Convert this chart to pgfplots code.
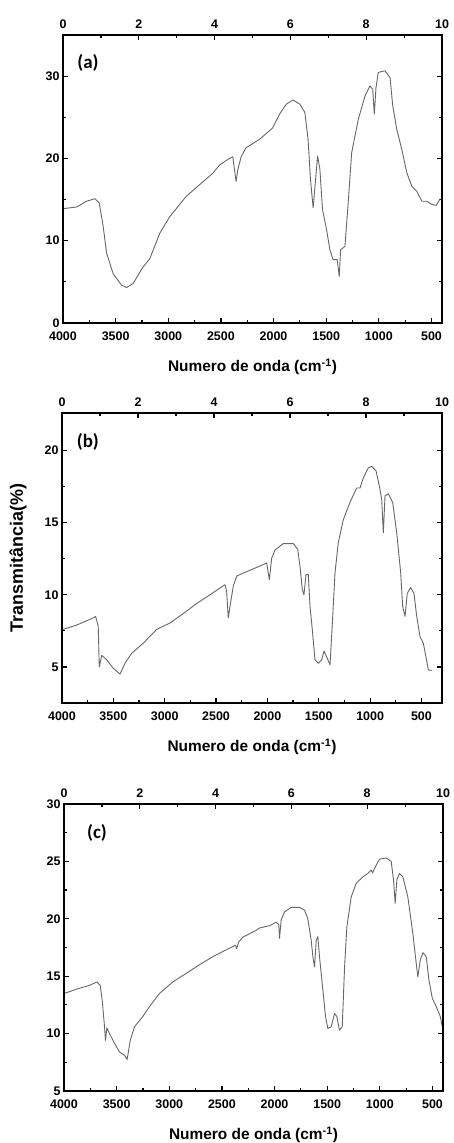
\documentclass[border=0pt]{standalone}
\usepackage{fontspec}
\setmainfont{Liberation Sans}
\newfontfamily\carlito{Carlito}
\usepackage{pgfplots}
\pgfplotsset{compat=1.18}
\tikzset{
  lab/.style={font=\carlito\bfseries\fontsize{19}{21}\selectfont},
  curve/.style={black!60, line width=0.9bp, line join=round},
}
\pgfplotsset{
  common/.style={
    scale only axis, anchor=south west,
    axis line style={line width=1.5bp},
    major tick length=5bp, minor tick length=3bp,
    every tick/.style={black, line width=1.2bp},
    tick label style={font=\fontsize{12.5}{14}\selectfont\bfseries},
    /pgf/number format/assume math mode=true,
    /pgf/number format/1000 sep={},
  },
  spec/.style={common,
    x dir=reverse, xmax=4000,
    xtick={500,1000,...,4000}, minor x tick num=1,
    xtick pos=left, ytick pos=both, yticklabel pos=left,
    minor y tick num=1,
    xticklabel style={yshift=-5bp},
    xlabel={Numero de onda (cm\textsuperscript{-1})},
    every axis x label/.style={at={(axis description cs:0.5,0)}, anchor=center, yshift=-44bp,
      font=\fontsize{15.5}{17}\selectfont\bfseries},
  },
  top/.style={common,
    xmin=0, xmax=10, ymin=0, ymax=1,
    xtick={0,2,...,10}, minor x tick num=1,
    xtick pos=right, xticklabel pos=right, ytick=\empty,
    xticklabel style={yshift=3bp},
  },
}
\begin{document}
\begin{tikzpicture}
\path[use as bounding box] (0,0) rectangle (454bp,1143bp);

% ---------------- (a)
\begin{axis}[spec, at={(63bp,820bp)}, width=379bp, height=288bp,
  xmin=400, ymin=0, ymax=35, ytick={0,10,20,30}]
\addplot[curve] coordinates {
(4000,13.9)(3930,14.0)(3870,14.1)(3776,14.8)(3697,15.1)(3656,14.6)(3618,11.7)
(3586,8.5)(3524,6.0)(3444,4.6)(3397,4.3)(3334,4.8)(3240,6.8)(3176,7.8)(3081,10.9)
(2987,12.9)(2829,15.4)(2703,16.8)(2577,18.2)(2513,19.2)(2419,20.0)(2387,20.2)
(2375,19.0)(2356,17.2)(2340,18.6)(2308,20.2)(2261,21.3)(2135,22.3)(2009,23.7)
(1942,25.4)(1878,26.6)(1815,27.1)(1751,26.6)(1703,25.6)(1672,22.3)(1649,17.4)
(1624,14.0)(1601,17.4)(1582,20.3)(1560,18.7)(1535,13.8)(1496,11.3)(1465,8.9)
(1434,7.7)(1395,7.7)(1376,5.65)(1363,8.9)(1322,9.3)(1291,14.6)(1258,20.7)
(1195,24.75)(1131,27.6)(1084,28.8)(1058,28.4)(1043,25.4)(1027,28.6)(1005,30.45)
(941,30.65)(893,29.8)(868,26.4)(829,23.5)(782,21.1)(734,18.25)(686,16.6)
(639,16.0)(591,14.8)(544,14.8)(496,14.4)(455,14.3)(417,15.1)
};
\node[lab] at (axis description cs:0.066,0.903) {(a)};
\end{axis}
\begin{axis}[top, at={(63bp,820bp)}, width=379bp, height=288bp]
\addplot[draw=none] coordinates {(0,0)};
\end{axis}

% ---------------- (b)
\begin{axis}[spec, at={(62bp,440bp)}, width=380bp, height=290bp,
  xmin=300, ymin=2.5, ymax=22.6, ytick={5,10,15,20},
  ylabel={Transmitância(\%)},
  every axis y label/.style={at={(axis description cs:-0.116,0.5)}, rotate=90, anchor=center,
    font=\fontsize{18}{20}\selectfont\bfseries}]
\addplot[curve] coordinates {
(4000,7.58)(3857,7.9)(3695,8.4)(3672,8.5)(3647,7.8)(3637,5.0)(3613,5.8)(3565,5.5)
(3500,4.9)(3435,4.5)(3387,5.25)(3321,5.95)(3208,6.65)(3078,7.6)(2948,8.05)
(2819,8.7)(2688,9.4)(2559,10.0)(2413,10.7)(2397,10.25)(2381,8.4)(2364,9.2)
(2332,10.6)(2299,11.3)(2202,11.6)(2072,12.0)(2007,12.2)(1981,11.05)(1958,12.55)
(1926,13.1)(1845,13.55)(1748,13.55)(1705,13.15)(1683,12.0)(1660,10.35)(1644,10.0)
(1624,11.4)(1602,11.4)(1585,9.2)(1563,7.6)(1537,5.5)(1504,5.25)(1471,5.5)
(1449,6.1)(1423,5.7)(1390,5.15)(1364,8.5)(1342,11.5)(1310,13.6)(1261,15.2)
(1196,16.4)(1131,17.4)(1098,17.4)(1066,18.1)(1018,18.8)(984,18.9)(943,18.6)
(910,17.55)(887,16.6)(871,14.3)(855,16.85)(823,17.0)(780,16.4)(741,14.3)
(702,11.5)(683,9.2)(660,8.5)(638,10.1)(605,10.5)(573,10.1)(546,8.5)(514,7.1)
(482,6.65)(456,5.7)(433,4.8)(400,4.75)
};
\node[lab] at (axis description cs:0.068,0.9) {(b)};
\end{axis}
\begin{axis}[top, at={(62bp,440bp)}, width=380bp, height=290bp]
\addplot[draw=none] coordinates {(0,0)};
\end{axis}

% ---------------- (c)
\begin{axis}[spec, at={(64bp,52bp)}, width=379bp, height=287bp,
  xmin=400, ymin=5, ymax=30, ytick={5,10,...,30}]
\addplot[curve] coordinates {
(4000,13.5)(3979,13.56)(3853,13.95)(3758,14.2)(3688,14.5)(3656,14.2)(3637,12.9)
(3615,10.6)(3606,9.4)(3593,10.5)(3568,10.0)(3520,9.15)(3473,8.4)(3425,8.1)
(3400,7.75)(3371,9.4)(3330,10.6)(3251,11.5)(3188,12.35)(3093,13.5)(2966,14.5)
(2839,15.25)(2713,16.0)(2586,16.7)(2459,17.3)(2371,17.7)(2360,17.4)(2340,18.0)
(2301,18.4)(2174,19.0)(2143,19.2)(2048,19.4)(1984,19.7)(1960,19.5)(1953,18.3)
(1937,19.9)(1905,20.6)(1842,21.0)(1763,21.0)(1715,20.75)(1684,20.0)(1652,18.15)
(1636,16.7)(1620,15.8)(1604,18.15)(1589,18.45)(1573,16.7)(1541,13.8)(1516,11.5)
(1494,10.45)(1462,10.6)(1430,11.75)(1409,11.5)(1383,10.3)(1357,10.6)(1335,15.8)
(1313,19.3)(1272,21.9)(1224,23.1)(1161,23.65)(1114,23.95)(1082,24.25)(1070,24.0)
(1041,24.55)(1003,25.2)(939,25.3)(892,25.0)(870,23.4)(854,21.35)(838,23.4)
(813,23.95)(781,23.65)(734,21.9)(686,18.7)(654,16.1)(639,14.95)(616,16.4)
(591,17.05)(559,16.7)(534,14.7)(502,13.1)(464,12.35)(426,11.5)(407,10.6)
};
\node[lab] at (axis description cs:0.087,0.899) {(c)};
\end{axis}
\begin{axis}[top, at={(64bp,52bp)}, width=379bp, height=287bp]
\addplot[draw=none] coordinates {(0,0)};
\end{axis}
\end{tikzpicture}
\end{document}
